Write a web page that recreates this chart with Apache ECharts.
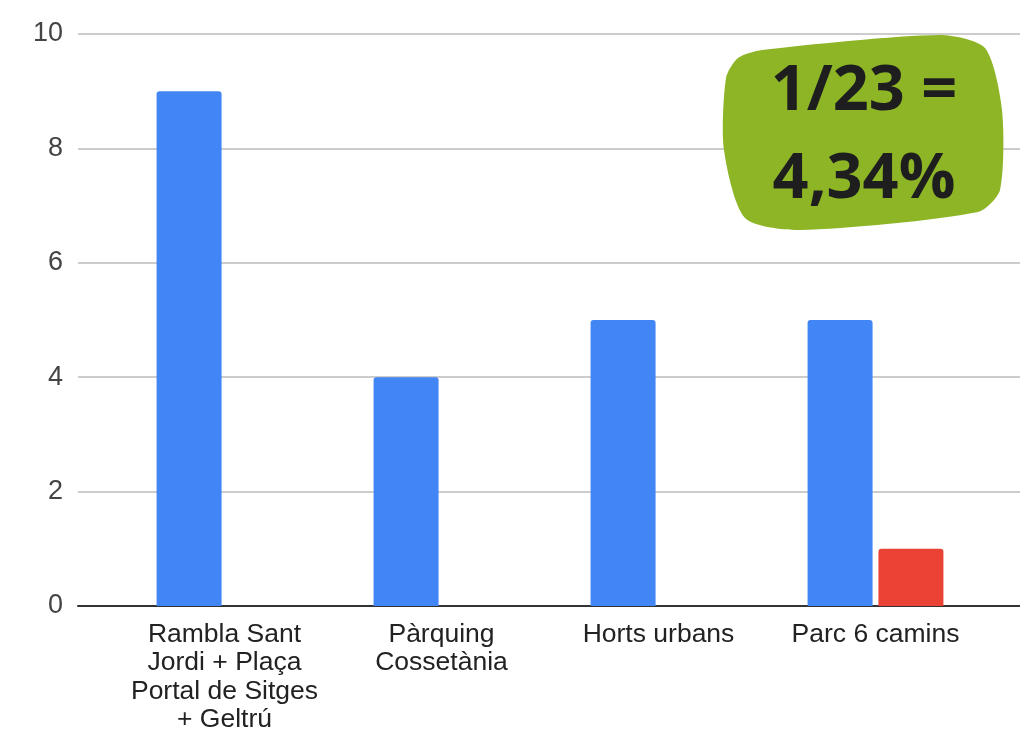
<!DOCTYPE html>
<html><head><meta charset="utf-8">
<script src="https://cdn.jsdelivr.net/npm/echarts@6/dist/echarts.min.js"></script>
<style>html,body{margin:0;padding:0;background:#fff}#c{width:1020px;height:729px}</style>
</head><body><div id="c"></div>
<script>
const categories = ["Rambla Sant\nJordi + Plaça\nPortal de Sitges\n+ Geltrú", "Pàrquing\nCossetània", "Horts urbans", "Parc 6 camins"];
const blueValues = [9, 4, 5, 5];
const redValues = [null, null, null, 1];
const yTicks = [0, 2, 4, 6, 8, 10];
const badgeText = "1/23 =\n4,34%";

const chart = echarts.init(document.getElementById('c'));
chart.setOption({
  animation: false,
  grid: [
    {left: 78, right: 0, top: 34, bottom: 123, outerBoundsMode: 'none', containLabel: false},
    {left: 116, right: 36, top: 34, bottom: 123, outerBoundsMode: 'none', containLabel: false}
  ],
  xAxis: [
    {gridIndex: 0, type: 'value', min: 0, max: 1, show: true,
     axisLine: {show: true, lineStyle: {color: '#333', width: 2}},
     axisTick: {show: false}, axisLabel: {show: false}, splitLine: {show: false}},
    {gridIndex: 1, type: 'category', data: categories,
     axisLine: {show: false}, axisTick: {show: false},
     axisLabel: {color: '#222', fontSize: 26.5, lineHeight: 28.5, margin: 14,
       fontFamily: 'Liberation Sans, Arial, sans-serif', interval: 0, hideOverlap: false}}
  ],
  yAxis: [
    {gridIndex: 0, type: 'value', min: yTicks[0], max: yTicks[yTicks.length-1], interval: 2,
     axisLine: {show: false}, axisTick: {show: false},
     axisLabel: {color: '#444', fontSize: 27, margin: 15, fontFamily: 'Liberation Sans, Arial, sans-serif'},
     splitLine: {lineStyle: {color: '#ccc', width: 2}}},
    {gridIndex: 1, type: 'value', min: 0, max: 10, show: false}
  ],
  series: [
    {type: 'bar', xAxisIndex: 1, yAxisIndex: 1, data: blueValues, barWidth: 65, barGap: '9%',
     itemStyle: {color: '#4285f4', borderRadius: [3, 3, 0, 0]}},
    {type: 'bar', xAxisIndex: 1, yAxisIndex: 1, data: redValues, barWidth: 65, barGap: '9%',
     itemStyle: {color: '#ea4335', borderRadius: [3, 3, 0, 0]}}
  ],
  graphic: [
    {type: 'polygon', z: 100,
     shape: {points: [[738, 58], [762, 50], [940, 35], [985, 48], [1002, 110], [1000, 190], [978, 212], [800, 230], [745, 218], [724, 150], [726, 78]], smooth: 0.25},
     style: {fill: '#8db526'}},
    {type: 'text', z: 101, x: 864, y: 136,
     style: {text: badgeText, fill: '#1e1e1e', font: 'bold 63px "Open Sans", sans-serif',
       align: 'center', verticalAlign: 'middle', lineHeight: 88}}
  ]
});
</script>
</body></html>
